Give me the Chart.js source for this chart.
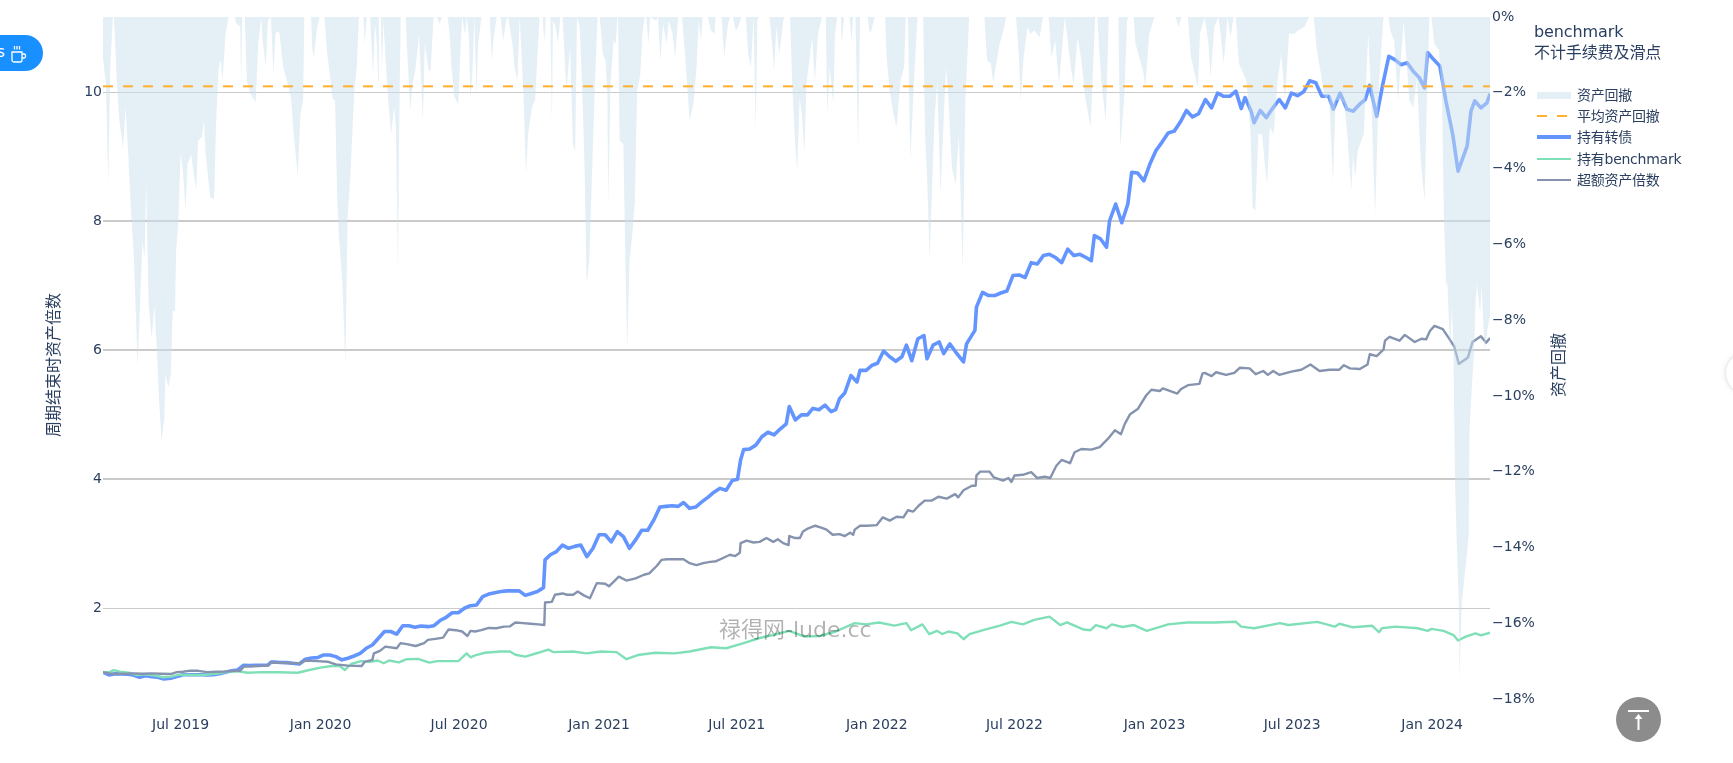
<!DOCTYPE html>
<html>
<head>
<meta charset="utf-8">
<title>benchmark</title>
<script src="https://cdn.jsdelivr.net/npm/chart.js@4/dist/chart.umd.min.js"></script>
<style>
html, body { margin: 0; padding: 0; background: #fff; overflow: hidden; }
body { width: 1733px; height: 763px; position: relative; font-family: "DejaVu Sans", "Noto Sans CJK SC", sans-serif; color: #2a3f5f; }
#wrap { position: absolute; left: 0; top: 0; width: 1733px; height: 763px; }
.abs { position: absolute; white-space: nowrap; }
.axis-title { font-size: 16px; transform: translate(-50%, -50%) rotate(-90deg); }
#legendTitle { left: 1534px; top: 21px; font-size: 16px; line-height: 21px; letter-spacing: -0.1px; }
.legend-text { left: 1577px; font-size: 14px; line-height: 20px; letter-spacing: -0.25px; }
.swatch { position: absolute; left: 1537px; width: 34px; }
#watermark { left: 719px; top: 617px; font-size: 22px; line-height: 26px; color: rgba(0, 0, 0, 0.3); }
#pill { left: -24px; top: 35px; width: 67px; height: 36px; border-radius: 18px; background: #1890ff; color: #fff; }
#pill span { position: absolute; left: 21px; top: 8px; font-size: 15px; }
#pill svg { position: absolute; left: 35px; top: 10px; }
#totop { left: 1616px; top: 697px; width: 45px; height: 45px; border-radius: 23px; background: #8c8c8c; }
#edge { left: 1726px; top: 353px; width: 40px; height: 40px; border-radius: 20px; background: #fff; box-shadow: 0 0 5px rgba(0,0,0,0.18); }
</style>
</head>
<body>
<div id="wrap"><canvas id="chart"></canvas></div>
<div class="abs axis-title" style="left:52px;top:365px">周期结束时资产倍数</div>
<div class="abs axis-title" style="left:1557px;top:365px">资产回撤</div>
<div class="abs" id="legendTitle">benchmark<br>不计手续费及滑点</div>
<div class="abs" id="watermark">禄得网-lude.cc</div>
<div class="abs" id="pill"><span>s</span>
  <svg width="16" height="18" viewBox="0 0 16 18" fill="none" stroke="#fff" stroke-width="1.3">
    <path d="M1 7h10v8a2 2 0 0 1-2 2H3a2 2 0 0 1-2-2z"/><path d="M11 9h2a1.5 1.5 0 0 1 1.5 1.5v1A1.5 1.5 0 0 1 13 13h-2"/>
    <path d="M3.5 1v3.5M6 1v3.5M8.5 1v3.5"/>
  </svg>
</div>
<div class="abs" id="totop">
  <svg width="45" height="45" viewBox="0 0 45 45" fill="#fff">
    <rect x="12" y="13" width="21" height="2"/><rect x="21.5" y="21" width="2" height="12"/><path d="M22.5 17l-4 5h8z"/>
  </svg>
</div>
<div class="abs" id="edge"></div>
<script>
// everything is placed on a day axis counted from the first date
const startDate = '2019-03-21';
const endDay = 1823;

const tickDates = ['2019-07-01', '2020-01-01', '2020-07-01', '2021-01-01', '2021-07-01',
    '2022-01-01', '2022-07-01', '2023-01-01', '2023-07-01', '2024-01-01'];
const tickLabels = ['Jul 2019', 'Jan 2020', 'Jul 2020', 'Jan 2021', 'Jul 2021',
    'Jan 2022', 'Jul 2022', 'Jan 2023', 'Jul 2023', 'Jan 2024'];
const leftTicks = [2, 4, 6, 8, 10];

// 持有转债
const bondDays = [0, 8, 16, 24, 32, 40, 48, 56, 64, 72, 80, 89, 97, 105, 113, 121, 129, 137, 145, 153,
    161, 169, 177, 185, 193, 201, 209, 217, 221, 225, 233, 241, 249, 258, 266, 274, 282, 290, 298, 306,
    314, 322, 330, 338, 346, 354, 362, 370, 378, 386, 394, 402, 410, 418, 427, 435, 443, 451, 459, 467,
    475, 483, 491, 499, 507, 515, 523, 531, 539, 547, 555, 563, 571, 579, 581, 588, 596, 604, 612, 620,
    628, 636, 644, 652, 660, 668, 676, 684, 692, 700, 708, 716, 724, 732, 740, 748, 756, 763, 771, 779,
    787, 795, 803, 811, 819, 827, 834, 838, 842, 850, 858, 866, 874, 882, 890, 898, 902, 910, 918, 926,
    933, 941, 949, 957, 963, 968, 975, 983, 991, 995, 1003, 1011, 1018, 1026, 1034, 1042, 1050, 1056, 1063, 1071,
    1079, 1083, 1091, 1099, 1105, 1113, 1121, 1131, 1135, 1146, 1148, 1156, 1164, 1172, 1180, 1188, 1196, 1204, 1212, 1220,
    1228, 1236, 1244, 1252, 1260, 1268, 1276, 1284, 1292, 1299, 1303, 1311, 1319, 1323, 1331, 1339, 1347, 1352, 1360, 1368,
    1376, 1384, 1392, 1400, 1408, 1416, 1424, 1432, 1440, 1449, 1457, 1465, 1473, 1481, 1489, 1496, 1501, 1509, 1513, 1521,
    1529, 1537, 1546, 1554, 1562, 1570, 1578, 1586, 1594, 1602, 1611, 1617, 1626, 1635, 1643, 1651, 1659, 1665, 1674, 1682,
    1690, 1698, 1706, 1714, 1722, 1730, 1737, 1741, 1749, 1757, 1765, 1774, 1781, 1789, 1793, 1798, 1803, 1811, 1819, 1823];
const bondValues = [1.007, 0.966, 0.986, 0.98, 0.976, 0.966, 0.93, 0.955, 0.94, 0.93, 0.904, 0.914, 0.94, 0.97, 0.97, 0.97, 0.97, 0.966, 0.97, 0.986,
    1.007, 1.03, 1.043, 1.116, 1.11, 1.116, 1.116, 1.12, 1.167, 1.167, 1.16, 1.157, 1.147, 1.136, 1.21, 1.23, 1.235, 1.276, 1.276, 1.25,
    1.2, 1.225, 1.26, 1.3, 1.38, 1.43, 1.535, 1.64, 1.64, 1.6, 1.73, 1.73, 1.705, 1.726, 1.715, 1.73, 1.81, 1.86, 1.93, 1.93,
    2.0, 2.04, 2.05, 2.18, 2.22, 2.24, 2.26, 2.27, 2.27, 2.27, 2.2, 2.23, 2.26, 2.32, 2.75, 2.83, 2.88, 2.98, 2.93, 2.96,
    2.98, 2.8, 2.93, 3.14, 3.14, 3.03, 3.19, 3.11, 2.93, 3.06, 3.21, 3.21, 3.37, 3.57, 3.58, 3.59, 3.58, 3.64, 3.55, 3.57,
    3.65, 3.72, 3.8, 3.86, 3.83, 3.98, 4.0, 4.3, 4.46, 4.47, 4.53, 4.66, 4.73, 4.69, 4.78, 4.86, 5.13, 4.92, 5.0, 5.0,
    5.1, 5.08, 5.15, 5.05, 5.08, 5.25, 5.34, 5.61, 5.51, 5.69, 5.69, 5.77, 5.8, 5.99, 5.9, 5.83, 5.9, 6.08, 5.84, 6.18,
    6.23, 5.87, 6.08, 6.13, 5.95, 6.1, 5.97, 5.82, 6.1, 6.31, 6.67, 6.9, 6.85, 6.85, 6.89, 6.92, 7.16, 7.17, 7.13, 7.36,
    7.34, 7.47, 7.49, 7.44, 7.36, 7.57, 7.47, 7.49, 7.44, 7.39, 7.78, 7.73, 7.6, 8.01, 8.27, 7.98, 8.27, 8.76, 8.75, 8.63,
    8.89, 9.1, 9.23, 9.37, 9.4, 9.54, 9.72, 9.62, 9.67, 9.89, 9.76, 9.99, 9.94, 9.94, 10.02, 9.75, 9.92, 9.71, 9.53, 9.72,
    9.61, 9.75, 9.89, 9.76, 9.99, 9.95, 10.01, 10.18, 10.15, 9.94, 9.94, 9.74, 9.99, 9.74, 9.71, 9.81, 9.89, 10.11, 9.63, 10.12,
    10.56, 10.51, 10.43, 10.46, 10.33, 10.23, 10.07, 10.62, 10.51, 10.41, 9.87, 9.35, 8.78, 9.04, 9.17, 9.71, 9.87, 9.76, 9.84, 9.98];

// 持有benchmark
const benchDays = [0, 8, 14, 22, 34, 44, 54, 69, 79, 90, 100, 115, 135, 150, 165, 180, 190, 210, 230, 256,
    271, 286, 301, 311, 318, 326, 339, 351, 361, 369, 376, 389, 399, 414, 429, 439, 467, 478, 483, 489,
    502, 522, 535, 542, 555, 572, 585, 592, 618, 635, 655, 675, 688, 703, 726, 751, 771, 799, 819, 842,
    862, 882, 902, 922, 942, 963, 988, 1003, 1020, 1040, 1056, 1062, 1077, 1086, 1096, 1103, 1111, 1123, 1131, 1139,
    1159, 1179, 1194, 1209, 1224, 1244, 1258, 1267, 1289, 1298, 1305, 1319, 1326, 1340, 1355, 1372, 1400, 1425, 1442, 1460,
    1489, 1496, 1513, 1547, 1558, 1596, 1619, 1625, 1643, 1668, 1677, 1681, 1699, 1728, 1741, 1746, 1762, 1775, 1781, 1791,
    1804, 1811, 1823];
const benchValues = [1.007, 1.007, 1.04, 1.017, 1.0, 0.966, 0.976, 0.955, 0.93, 0.94, 0.97, 0.965, 0.97, 0.986, 1.017, 1.02, 1.0, 1.01, 1.007, 1.0,
    1.043, 1.08, 1.105, 1.105, 1.043, 1.136, 1.18, 1.17, 1.19, 1.147, 1.19, 1.16, 1.21, 1.215, 1.157, 1.18, 1.18, 1.3, 1.24, 1.27,
    1.31, 1.33, 1.33, 1.28, 1.25, 1.31, 1.36, 1.32, 1.33, 1.3, 1.33, 1.32, 1.21, 1.275, 1.31, 1.3, 1.33, 1.395, 1.38, 1.46,
    1.535, 1.59, 1.65, 1.56, 1.57, 1.64, 1.77, 1.75, 1.78, 1.73, 1.77, 1.66, 1.75, 1.6, 1.65, 1.6, 1.64, 1.61, 1.52, 1.6,
    1.67, 1.73, 1.79, 1.75, 1.82, 1.87, 1.74, 1.78, 1.67, 1.66, 1.74, 1.69, 1.75, 1.71, 1.74, 1.65, 1.75, 1.78, 1.78, 1.78,
    1.79, 1.715, 1.69, 1.77, 1.74, 1.79, 1.715, 1.76, 1.705, 1.73, 1.63, 1.69, 1.715, 1.69, 1.65, 1.68, 1.65, 1.585, 1.5, 1.56,
    1.61, 1.58, 1.62];

// 超额资产倍数
const excessDays = [0, 8, 16, 28, 40, 52, 64, 76, 89, 97, 105, 113, 125, 137, 149, 161, 171, 180, 185, 195,
    205, 217, 221, 235, 250, 260, 266, 281, 296, 306, 322, 340, 344, 354, 356, 364, 371, 386, 391, 401,
    411, 422, 427, 439, 447, 454, 464, 472, 479, 483, 489, 497, 507, 517, 527, 535, 542, 552, 562, 572,
    580, 581, 590, 594, 604, 610, 618, 624, 632, 640, 649, 660, 665, 678, 688, 700, 711, 718, 728, 734,
    741, 754, 763, 771, 780, 789, 798, 806, 815, 824, 831, 837, 838, 846, 855, 863, 872, 881, 887, 894,
    901, 902, 909, 916, 920, 927, 936, 944, 951, 959, 968, 975, 982, 986, 988, 995, 1004, 1017, 1025, 1034,
    1043, 1052, 1058, 1065, 1072, 1080, 1089, 1098, 1109, 1120, 1124, 1131, 1142, 1147, 1148, 1153, 1165, 1171, 1183, 1190,
    1194, 1198, 1209, 1220, 1228, 1238, 1245, 1253, 1260, 1271, 1277, 1286, 1299, 1310, 1321, 1330, 1338, 1343, 1350, 1360,
    1371, 1378, 1389, 1393, 1412, 1417, 1426, 1441, 1445, 1448, 1457, 1463, 1476, 1487, 1494, 1507, 1515, 1525, 1531, 1538,
    1546, 1562, 1575, 1587, 1599, 1612, 1625, 1631, 1639, 1652, 1662, 1665, 1674, 1683, 1685, 1691, 1704, 1711, 1724, 1733,
    1739, 1744, 1750, 1761, 1770, 1776, 1782, 1794, 1800, 1811, 1818, 1823];
const excessValues = [1.007, 0.99, 0.98, 0.985, 0.99, 0.985, 0.99, 0.985, 0.98, 1.01, 1.015, 1.03, 1.03, 1.01, 1.015, 1.02, 1.03, 1.03, 1.095, 1.1,
    1.105, 1.115, 1.16, 1.155, 1.15, 1.147, 1.19, 1.18, 1.17, 1.13, 1.11, 1.105, 1.17, 1.2, 1.3, 1.34, 1.405, 1.38, 1.46, 1.44,
    1.415, 1.46, 1.51, 1.53, 1.545, 1.67, 1.66, 1.64, 1.57, 1.65, 1.64, 1.66, 1.695, 1.69, 1.715, 1.72, 1.78, 1.77, 1.76, 1.75,
    1.74, 2.09, 2.1, 2.21, 2.23, 2.21, 2.21, 2.26, 2.2, 2.155, 2.39, 2.38, 2.34, 2.49, 2.43, 2.465, 2.52, 2.54, 2.66, 2.75,
    2.76, 2.76, 2.76, 2.7, 2.67, 2.7, 2.72, 2.73, 2.78, 2.83, 2.81, 2.86, 3.01, 3.05, 3.02, 3.03, 3.09, 3.03, 3.07, 3.01,
    2.98, 3.12, 3.09, 3.09, 3.19, 3.24, 3.28, 3.25, 3.22, 3.14, 3.15, 3.12, 3.17, 3.14, 3.22, 3.28, 3.28, 3.29, 3.41, 3.36,
    3.42, 3.41, 3.52, 3.5, 3.59, 3.67, 3.67, 3.73, 3.7, 3.77, 3.72, 3.83, 3.9, 3.9, 4.06, 4.12, 4.12, 4.03, 3.98, 4.02,
    3.96, 4.06, 4.07, 4.11, 4.02, 4.04, 4.02, 4.21, 4.3, 4.25, 4.42, 4.47, 4.46, 4.5, 4.63, 4.76, 4.7, 4.86, 5.01, 5.09,
    5.3, 5.39, 5.37, 5.41, 5.33, 5.4, 5.46, 5.48, 5.64, 5.65, 5.6, 5.66, 5.62, 5.65, 5.73, 5.72, 5.63, 5.68, 5.62, 5.68,
    5.62, 5.67, 5.7, 5.78, 5.68, 5.7, 5.7, 5.77, 5.72, 5.71, 5.78, 5.94, 5.91, 6.01, 6.15, 6.21, 6.15, 6.24, 6.13, 6.18,
    6.17, 6.3, 6.38, 6.33, 6.17, 6.06, 5.79, 5.89, 6.13, 6.22, 6.12, 6.19];

// 资产回撤, in percent
const drawdownDays = [0, 4, 7, 9.5, 13, 14.5, 15.5, 18, 21.5, 26.5, 29.6, 33, 36.6, 40.6, 45.6, 49.7, 51.7, 54.7, 56.7, 60,
    64, 67.5, 70.5, 74, 77, 80.6, 82, 86, 89, 91.6, 94.6, 96, 99, 102, 105, 108.6, 111, 116, 118.6, 122.6,
    125, 130, 132.7, 135, 141, 146, 148.8, 152, 155, 157, 161, 165, 173, 175.5, 180.5, 181.5, 183, 186.5, 189, 194,
    200.6, 204, 208, 209.7, 214, 216.7, 220.7, 224, 226.8, 231.8, 236.8, 241.8, 247, 251, 256, 259.5, 263, 264.5, 273.5, 275,
    277, 281, 284.6, 291, 294.7, 302, 305, 308, 310, 314.8, 318.5, 321.4, 325, 330, 333.4, 336.4, 342.4, 344, 346.5, 351,
    355, 357.5, 360, 361.6, 362.6, 365, 366.6, 368.6, 372.6, 375, 378.7, 382.7, 385, 387.7, 389.7, 391.3, 397.8, 400.3, 403.8, 406.8,
    410.4, 415.4, 420.4, 422.9, 428, 430.5, 434.5, 439, 442, 445.6, 453, 455.6, 458, 462, 467, 469.7, 472, 475.7, 478, 480.8,
    483, 485.8, 488, 491, 493, 497.4, 508.4, 511, 513.5, 517.5, 522.5, 526, 530, 532.6, 538.6, 541, 544.6, 547.7, 552.7, 556,
    558.7, 563.8, 567.8, 571.3, 573.8, 578, 580, 582, 588, 590, 591.4, 595, 598, 601, 604, 609, 614, 617.6, 620.6, 623,
    626.6, 630, 633, 635.7, 639, 643, 646.8, 650, 653, 657, 660.5, 663, 664, 667, 671, 674, 676, 677, 679, 684,
    687, 689, 692, 696, 699, 702, 706, 709, 712, 714, 717, 719, 727, 729.5, 732.5, 736, 741, 743.5, 748.6, 752,
    756, 761, 764.7, 771, 776, 780, 783, 786, 788, 795, 799, 804, 805, 813, 816.5, 821.5, 824, 828, 831.6, 835,
    839, 845, 848, 851.7, 855, 858, 860, 862, 876, 879, 882, 885, 889, 894, 896, 903, 906, 909.5, 912.5, 915.6,
    918, 922, 924.6, 932, 935.7, 939.7, 945, 950, 952, 955, 960, 962, 965, 970, 971, 974, 981, 984, 986, 989,
    992.5, 995, 1005, 1008, 1010, 1014, 1028, 1030, 1034, 1039, 1043, 1048, 1053, 1055, 1058, 1061, 1065.5, 1070.5, 1078, 1080.5,
    1083, 1086.6, 1089.6, 1093, 1096.6, 1100.7, 1108, 1110.7, 1115.8, 1120.8, 1125, 1130, 1133.4, 1138.4, 1141, 1158.5, 1162, 1167, 1170, 1174,
    1178.6, 1184, 1187, 1200, 1204, 1206, 1210, 1215, 1219, 1224, 1231, 1235.5, 1243, 1246.5, 1251.6, 1256.6, 1264, 1267, 1272, 1275.7,
    1281, 1286, 1291, 1298, 1304, 1307, 1312, 1318, 1322, 1334.6, 1337, 1342, 1346, 1348, 1354.7, 1357, 1367, 1370, 1375, 1382,
    1410, 1413.5, 1417.6, 1426, 1430, 1435, 1439, 1441.7, 1448, 1453, 1455.6, 1460.7, 1466, 1469, 1473, 1478, 1482, 1486, 1489, 1493,
    1503, 1508.4, 1511, 1514.5, 1518.5, 1523.5, 1527, 1530, 1533.6, 1538.6, 1543.7, 1548.7, 1553.7, 1558.7, 1566, 1571, 1579, 1585.4, 1591.4, 1595.5,
    1601.5, 1606.5, 1611.6, 1616.6, 1620, 1626.6, 1631.7, 1635.7, 1640.7, 1643, 1645.8, 1649, 1657, 1663, 1667, 1672, 1677, 1683, 1689.5, 1692,
    1697, 1702, 1709.6, 1717, 1722, 1727, 1732, 1737, 1740, 1743.3, 1746, 1750, 1756, 1760, 1762.5, 1765.5, 1767, 1770.5, 1773, 1775,
    1777, 1779, 1782, 1783, 1784.4, 1786, 1793, 1795, 1796, 1798, 1802, 1804, 1806, 1810, 1812, 1816, 1820, 1823];
const drawdownValues = [-1.06, -1.85, -4.41, -1.32, 0, 0, -0.44, -1.59, -2.73, -3.44, -2.38, -3.53, -5.03, -6.35, -9.21, -7.05, -5.91, -6.35, -4.32, -7.57,
    -8.47, -7.63, -8.63, -10.2, -11.2, -10.58, -9.43, -9.77, -9.43, -7.76, -7.76, -6.2, -5.38, -3.6, -4.06, -5.11, -3.88, -3.62, -4.06, -4.54,
    -3.26, -3.17, -2.73, -3.62, -4.76, -4.81, -2.65, -1.32, -1.15, -1.68, -0.44, 0, 0, -0.18, -0.26, -1.81, 0, 0, -1.68, -2.03,
    -2.25, -0.71, 0, -0.62, -1.32, -0.09, 0, -1.5, -0.4, -0.4, -1.32, -1.68, -2.12, -3.17, -4.19, -2.56, -2.2, 0, 0, -0.79,
    -1.06, -0.35, 0, 0, -0.97, -2.16, -2.2, -4.85, -5.73, -7.05, -9.17, -5.29, -4.23, -2.03, -1.32, 0, 0, -0.7, 0, 0,
    -1.5, -0.18, -0.7, -1.68, 0, 0, -1.32, -0.1, -1.5, -2.2, -3.09, -2.38, -2.9, -6.7, -2.2, 0, 0, -1.06, -2.47, -1.76,
    -1.41, -0.44, -2.73, -0.7, -1.41, -1.41, 0, 0, -0.18, 0, 0, -0.44, -1.32, -2.12, -2.29, -0.88, 0, -0.44, 0, -0.44,
    -2.2, -1.32, 0, -2.03, -0.7, 0, 0, -1.15, -0.53, 0, 0, -0.62, -0.09, 0, -0.79, -1.32, -1.68, 0, -2.03, -4.14,
    -3.09, -2.38, -2.2, -0.88, 0, 0, -0.7, 0, 0, -2.73, -0.09, -0.26, -0.7, 0, 0, -1.94, -0.79, -3.35, -3.53, 0,
    -0.26, -1.94, -3.97, -7.05, -6.44, -3.97, -1.59, 0, 0, -0.97, -1.15, -2.03, -4.94, -1.76, -0.62, -0.71, 0, 0, -3.26, -3.35,
    -6.8, -8.77, -6.44, -5.64, -4.85, -1.94, -1.54, -0.44, 0, 0, -0.7, 0, -0.09, 0, -1.15, -0.18, -0.7, -0.09, -0.44, -1.06,
    0, 0, -0.88, -2.73, -2.29, -1.32, -0.09, -0.62, 0, 0, -0.35, -0.44, 0, 0, -1.06, -0.18, 0, 0, -0.35, -0.26,
    0, 0, -0.97, -1.32, 0, -3, -0.09, 0, 0, -0.62, -1.41, -0.26, -0.97, -0.09, 0, 0, -1.76, -3.26, -4.06, -2.12,
    -2.47, -3.53, -1.76, -0.53, -1.68, -0.44, 0, 0, -2.56, -1.32, -2.29, -0.44, 0, 0, -0.7, 0, 0, -0.62, 0, 0,
    -3.44, 0, 0, -0.44, -0.35, 0, 0, -1.06, -1.94, -2.56, -2.9, -1.68, -1.32, 0, 0, -3.79, -1.85, 0, 0, -3.09,
    -4.14, -6.35, -4.5, -2.65, -1.68, -4.67, -1.32, -1.94, -3.97, -4.41, -3.09, -6.7, -2.2, 0, 0, 0, -1.15, -1.23, -1.72, -1.23,
    -0.7, -0.31, 0, 0, -1.06, -2.2, -1.06, -0.26, -0.44, -0.35, -0.53, 0, 0, -1.06, -0.62, -1.76, 0, -0.44, -1.32, -1.76,
    -0.53, -1.15, -2.12, -2.91, 0, 0, -1.68, -2.73, 0, 0, -3.44, -2.2, -0.09, 0, 0, -0.7, -1.41, -1.85, -0.44, 0,
    0, -0.26, 0, 0, -1.06, -1.5, -1.85, -0.44, 0, -0.7, -1.59, -0.26, 0, -0.44, -1.23, 0, -0.53, 0, 0, -1.23,
    -1.68, -3.09, -5.03, -5.11, -3.09, -3.09, -3.88, -4.41, -2.91, -3.09, -1.68, -0.97, -2.2, -0.44, -0.44, -0.35, -0.26, 0, 0, -0.88,
    -1.59, -2.2, -2.03, -4.32, -2.2, -2.2, -2.29, -3.17, -4.58, -3.62, -4.23, -3.53, -3.09, -0.44, -2.2, -5.2, -1.76, 0, 0, -0.35,
    -0.62, -2.2, -0.09, -2.2, -2.38, -1.59, -3.79, -4.85, -2.2, 0, 0, -0.71, -0.88, -2.2, -5.29, -7.14, -6.97, -8.8, -7.6, -8.82,
    -12.25, -13.66, -15.43, -17.47, -16.3, -15.43, -14.1, -13.66, -10.93, -10.14, -8.82, -7.5, -7.05, -7.8, -7.1, -8.8, -8.2, -7.9];

// 平均资产回撤
const meanDays = [0, endDay];
const meanValues = [-1.83, -1.83];

function toPoints(days, values) {
    return days.map((d, i) => ({ x: d, y: values[i] }));
}

function dayOf(dateStr) {
    return (Date.parse(dateStr) - Date.parse(startDate)) / 86400000;
}

const tickDays = tickDates.map(dayOf);
const gridWidths = { 2: 1, 4: 2, 6: 2, 8: 2, 10: 1 };
const tickColor = '#2a3f5f';
const tickFont = { family: '"DejaVu Sans", sans-serif', size: 14 };

function lineDataset(label, days, values, color, width, order) {
    return {
        label: label,
        data: toPoints(days, values),
        borderColor: color,
        borderWidth: width,
        pointRadius: 0,
        tension: 0,
        fill: false,
        yAxisID: 'y',
        order: order,
        borderJoinStyle: 'round'
    };
}

const ctx = document.getElementById('chart').getContext('2d');
const chart = new Chart(ctx, {
    type: 'line',
    data: {
        datasets: [
            {
                label: '资产回撤',
                data: toPoints(drawdownDays, drawdownValues),
                borderWidth: 0,
                borderColor: 'rgba(0,0,0,0)',
                backgroundColor: 'rgba(201, 223, 237, 0.5)',
                pointRadius: 0,
                tension: 0,
                fill: 'origin',
                yAxisID: 'y2',
                order: 1
            },
            {
                label: '平均资产回撤',
                data: toPoints(meanDays, meanValues),
                borderColor: '#ffb02e',
                borderWidth: 2,
                borderDash: [10, 10],
                pointRadius: 0,
                fill: false,
                yAxisID: 'y2',
                order: 0
            },
            lineDataset('持有转债', bondDays, bondValues, '#6495ff', 3.6, 4),
            lineDataset('持有benchmark', benchDays, benchValues, '#7fe0b8', 2.4, 3),
            lineDataset('超额资产倍数', excessDays, excessValues, '#8593ae', 2.4, 2)
        ]
    },
    options: {
        responsive: true,
        maintainAspectRatio: false,
        animation: false,
        layout: { padding: { top: 17, left: 0, right: 0, bottom: 0 } },
        plugins: {
            legend: { display: false },
            tooltip: { enabled: false }
        },
        scales: {
            x: {
                type: 'linear',
                min: 0,
                max: endDay,
                grid: { display: false },
                border: { display: false },
                afterBuildTicks: scale => { scale.ticks = tickDays.map(v => ({ value: v })); },
                afterFit: scale => { scale.height = 64; },
                ticks: {
                    autoSkip: false,
                    maxRotation: 0,
                    padding: 10,
                    color: tickColor,
                    font: tickFont,
                    callback: value => tickLabels[tickDays.indexOf(value)]
                }
            },
            y: {
                position: 'left',
                min: 0.593,
                max: 11.17,
                border: { display: false },
                grid: {
                    color: '#cacaca',
                    drawTicks: false,
                    lineWidth: c => gridWidths[c.tick.value] || 1
                },
                afterBuildTicks: scale => { scale.ticks = leftTicks.map(v => ({ value: v })); },
                afterFit: scale => { scale.width = 103; },
                ticks: { padding: 1, color: tickColor, font: tickFont }
            },
            y2: {
                position: 'right',
                min: -18,
                max: 0,
                border: { display: false },
                grid: { display: false, drawTicks: false },
                afterFit: scale => { scale.width = 243; },
                ticks: {
                    stepSize: 2,
                    padding: 2,
                    color: tickColor,
                    font: tickFont,
                    callback: value => (value < 0 ? '\u2212' + (-value) : value) + '%'
                }
            }
        }
    }
});

// legend beside the chart, built from the datasets above
const legendTops = [85, 106, 127, 149, 170];
const fillSwatch = '#e4eff6';
chart.data.datasets.forEach((ds, i) => {
    const text = document.createElement('div');
    text.className = 'abs legend-text';
    text.style.top = legendTops[i] + 'px';
    text.textContent = ds.label;
    document.body.appendChild(text);

    const sw = document.createElement('div');
    sw.className = 'swatch';
    const mid = legendTops[i] + 10;
    if (ds.fill === 'origin') {
        sw.style.top = (mid - 3.5) + 'px';
        sw.style.height = '7px';
        sw.style.background = fillSwatch;
    } else {
        sw.style.top = (mid - ds.borderWidth / 2) + 'px';
        sw.style.height = ds.borderWidth + 'px';
        sw.style.background = ds.borderDash
            ? 'repeating-linear-gradient(90deg, ' + ds.borderColor + ' 0 10px, transparent 10px 20px)'
            : ds.borderColor;
    }
    document.body.appendChild(sw);
});
</script>
</body>
</html>
